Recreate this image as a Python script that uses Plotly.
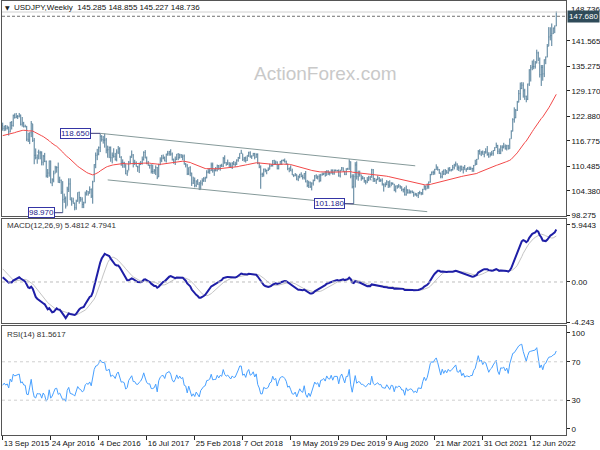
import numpy as np
import plotly.graph_objects as go

# ---------------- data (weekly USDJPY) ----------------
# closes before the visible window (Jan 2014 - 11 Sep 2015), used only to warm up the indicators
warmup_close = [104.8,104.1,104.3,102.3,102.0,102.3,101.8,102.5,101.8,103.3,101.4,102.2,102.8,
                103.3,101.6,102.4,102.2,102.2,101.8,101.5,101.9,101.8,102.5,102.0,102.0,101.4,
                102.1,101.3,101.3,101.8,102.6,102.0,102.4,103.8,103.8,105.1,107.4,109.0,109.3,
                109.7,107.6,106.9,108.1,112.3,114.6,116.3,117.8,118.6,121.4,118.8,119.5,120.4,
                120.5,118.5,117.5,117.7,117.5,119.1,118.8,119.0,119.6,120.8,121.4,120.0,119.1,
                119.0,120.2,118.9,118.9,120.2,119.8,119.3,121.5,124.1,125.6,123.4,122.7,123.9,
                122.8,122.8,124.0,123.8,123.9,124.2,124.3,122.0,121.7,119.0,120.6]

week_high = [
    # 2015
    121.3,120.5,120.7,120.6,120.3,121.5,121.7,123.3,123.6,123.7,123.2,123.7,123.3,122.7,121.5,120.8,
    # 2016
    120.5,118.8,118.9,121.7,121.0,117.5,114.9,113.4,114.6,114.3,114.2,113.3,113.8,111.9,109.8,111.9,111.9,
    107.5,109.4,110.6,110.5,111.4,107.9,107.2,106.8,103.7,103.0,105.4,107.5,107.5,102.8,102.7,101.5,102.2,
    104.0,104.2,102.9,102.8,101.7,104.2,104.6,104.3,105.5,105.0,106.9,111.0,113.9,114.8,115.4,118.65,118.2,118.0,
    # 2017
    118.6,117.5,115.6,115.4,115.4,113.9,114.95,113.8,114.7,115.5,115.2,113.0,112.2,111.6,111.0,109.6,111.8,
    113.1,114.4,113.5,112.1,111.7,110.6,111.4,111.8,112.9,114.2,114.5,112.9,111.8,110.9,111.0,110.9,109.8,
    110.7,110.3,111.1,112.7,113.3,113.4,112.9,113.6,114.3,114.3,114.7,113.9,112.4,112.9,113.5,113.75,113.6,113.5,
    # 2018
    113.4,113.4,111.3,111.0,110.2,110.5,108.9,107.9,107.7,107.0,107.3,106.6,107.0,107.5,107.8,107.9,109.5,
    109.9,110.0,111.4,111.4,109.8,110.3,110.9,110.8,110.9,111.1,112.8,113.2,111.5,112.15,111.5,111.4,111.5,
    111.8,111.6,112.2,112.8,113.7,114.55,113.6,112.8,112.9,113.2,114.1,114.2,113.2,113.8,113.8,113.7,113.7,111.4,
    # 2019
    110.7,108.9,109.9,109.9,109.6,110.2,111.1,111.0,112.0,112.1,111.9,111.7,111.0,111.8,112.1,112.2,112.4,
    111.9,111.1,110.1,110.7,109.9,108.5,108.8,108.5,108.2,108.6,108.99,108.4,108.8,109.3,107.1,106.9,106.7,
    106.5,107.2,108.3,108.5,108.2,108.5,108.6,108.9,108.9,109.3,109.5,109.5,109.1,109.7,109.7,109.7,109.7,109.6,
    # 2020
    109.7,109.6,110.3,110.2,109.3,110.0,110.1,112.2,111.7,108.5,108.5,111.5,111.7,109.4,109.4,108.4,108.1,
    107.8,107.1,107.8,108.1,108.1,109.85,109.8,107.6,107.4,108.2,107.8,107.4,107.5,106.2,106.5,107.05,106.8,
    107.0,106.55,106.5,106.1,105.7,105.8,106.1,105.75,105.5,105.0,105.3,105.7,104.8,104.75,104.5,104.5,104.2,
    103.9,103.8,
    # 2021
    104.1,104.4,104.1,104.9,105.8,105.7,106.2,106.7,108.6,109.2,109.4,109.85,110.97,110.4,109.8,108.9,109.3,
    109.7,109.8,109.5,110.2,110.3,109.8,110.8,111.1,111.65,111.2,110.7,110.6,110.6,110.4,110.8,110.0,110.3,
    110.4,110.4,110.1,110.8,112.1,112.3,114.5,114.7,114.3,114.4,114.2,114.95,115.5,113.95,113.95,114.3,114.5,115.2,
    # 2022
    116.35,115.8,114.9,115.7,115.7,116.3,115.9,115.8,115.8,117.35,119.4,122.4,125.1,124.7,126.7,129.4,131.25,
    131.35,131.3,129.7,128.0,130.98,134.55,135.6,136.7,137.0,136.6,139.4,138.9,137.45,135.6,135.6,137.0,137.7,
    140.8,144.99,144.95,145.9,144.9,145.4,148.855]

week_low = [
    # 2015
    119.3,119.2,119.3,119.6,118.1,118.9,119.6,120.3,122.3,122.4,122.2,122.6,120.6,120.3,120.1,120.2,
    # 2016
    116.7,116.5,115.98,117.7,116.5,110.99,112.2,111.1,112.2,112.2,110.7,110.7,111.5,107.7,107.6,107.9,106.3,
    105.55,106.5,108.7,108.9,106.4,106.3,103.6,98.97,101.4,99.99,100.7,104.1,102.1,100.7,101.2,99.55,99.7,
    101.7,101.2,101.7,100.1,100.1,101.3,103.2,103.2,103.7,102.6,101.2,106.6,110.0,112.0,113.2,114.0,116.6,116.1,
    # 2017
    115.1,113.7,112.6,112.5,111.6,111.2,112.6,111.9,111.7,113.5,112.6,110.6,110.1,110.1,108.5,108.1,109.4,
    111.0,112.6,110.2,110.8,110.4,109.1,108.8,110.8,110.9,111.9,112.5,111.0,110.6,109.9,108.7,108.6,108.6,
    108.3,107.3,107.8,110.8,111.5,112.2,111.7,111.4,113.1,113.1,113.1,111.9,111.1,110.8,112.0,112.0,112.4,112.6,
    # 2018
    112.0,110.9,110.2,108.3,108.3,108.0,105.6,106.1,105.25,105.3,105.9,104.6,104.7,105.7,106.6,106.6,107.5,
    108.7,108.6,109.3,108.9,108.1,109.2,109.2,109.6,109.4,110.3,110.3,111.1,110.6,110.8,110.3,110.1,109.8,
    110.7,110.4,110.8,111.6,112.3,113.6,111.8,111.6,111.4,111.8,112.8,112.6,112.3,113.0,112.2,112.6,111.0,110.0,
    # 2019
    104.9,107.8,107.9,109.0,108.5,109.3,109.7,110.4,110.4,110.8,110.8,109.7,109.7,110.9,110.8,111.7,111.4,
    110.9,109.5,109.0,109.3,108.3,107.8,108.0,107.0,106.8,107.5,107.8,107.2,107.2,106.5,105.3,105.1,105.1,
    104.5,105.7,106.8,107.4,107.2,106.5,106.7,108.2,108.3,107.9,108.2,108.3,108.2,108.7,108.4,108.4,109.2,109.2,
    # 2020
    107.9,107.7,109.4,109.1,108.3,108.3,109.6,109.6,107.5,105.0,101.18,105.2,107.2,106.9,107.9,106.9,107.2,
    106.4,105.99,106.3,106.8,107.1,107.6,106.6,106.6,106.1,107.0,106.6,106.6,105.7,104.2,105.3,105.8,105.1,
    105.2,105.6,105.9,104.3,104.0,104.9,105.2,104.9,104.3,104.0,103.2,103.2,103.7,103.7,103.7,103.8,102.9,
    103.2,102.95,
    # 2021
    102.6,103.5,103.3,103.4,104.7,104.5,104.9,104.9,106.4,108.3,108.3,108.4,109.6,109.4,108.6,107.5,107.5,
    108.3,108.3,108.6,108.6,109.2,109.2,109.4,109.7,110.4,109.5,109.3,109.1,109.4,108.7,109.6,109.1,109.6,
    109.6,109.6,109.1,109.1,110.7,110.8,112.2,113.4,113.0,113.4,112.7,113.6,113.1,112.6,112.9,113.1,113.1,114.3,
    # 2022
    115.0,113.5,113.5,113.5,114.15,114.9,114.6,114.4,114.65,114.8,117.3,119.1,121.3,122.4,124.2,126.3,126.9,
    129.6,127.5,126.95,126.35,126.9,130.4,131.5,134.3,134.55,134.7,136.0,136.55,132.5,130.4,131.7,132.6,135.8,
    137.5,140.25,141.7,140.3,143.3,143.5,145.227]

week_close = [
    # 2015
    119.9,120.5,119.9,120.2,119.0,121.4,120.6,123.1,122.6,122.8,122.8,123.2,120.9,121.2,120.3,120.2,
    # 2016
    117.2,117.0,118.8,121.1,116.9,113.2,112.6,114.0,113.8,113.8,111.5,113.0,111.7,108.1,108.8,111.8,106.3,
    107.1,108.6,110.1,110.2,106.5,107.0,104.1,102.2,102.5,100.6,104.8,106.1,102.1,101.8,101.3,100.2,101.8,
    104.0,102.7,102.3,101.0,101.4,103.6,104.2,103.8,104.7,103.1,106.6,110.9,113.2,113.5,115.1,117.9,117.1,116.9,
    # 2017
    117.0,114.5,114.6,115.1,112.6,113.2,112.9,112.1,114.0,114.8,112.7,111.3,111.4,111.1,108.6,109.1,111.5,
    112.7,113.3,111.3,111.3,110.4,110.3,110.9,111.3,112.2,113.9,112.5,111.1,110.7,110.7,109.2,109.2,109.4,
    110.2,107.8,110.8,112.0,112.5,112.6,111.8,113.5,113.7,114.1,113.5,112.1,111.5,112.2,113.5,112.6,113.3,112.7,
    # 2018
    113.0,111.0,110.8,108.6,110.2,108.8,106.3,106.9,105.7,106.8,106.0,104.7,106.3,106.9,107.4,107.6,109.0,
    109.1,109.4,110.8,109.4,109.5,109.5,110.6,110.0,110.7,110.5,112.4,111.4,111.0,111.3,110.9,110.5,111.2,
    110.9,111.0,112.0,112.6,113.7,113.7,112.2,112.5,111.9,113.2,113.8,112.8,113.0,113.6,112.7,113.4,111.2,110.3,
    # 2019
    108.5,108.5,109.8,109.5,109.5,109.7,110.5,110.7,111.9,111.2,111.5,109.9,110.9,111.7,111.9,111.9,111.6,
    111.1,109.9,110.1,109.3,108.3,108.2,108.5,107.3,107.9,108.5,107.9,107.7,108.7,106.6,105.7,106.4,105.4,
    106.3,106.9,108.1,107.6,107.9,106.9,108.3,108.4,108.7,108.2,109.3,108.8,108.7,109.5,108.6,109.4,109.4,109.4,
    # 2020
    108.1,109.5,110.1,109.3,108.4,109.8,109.8,111.6,108.0,105.4,107.9,110.8,107.9,108.5,108.4,107.5,107.5,
    106.9,106.6,107.1,107.6,107.1,109.6,107.4,106.9,107.2,107.5,106.9,107.0,106.1,105.9,105.9,106.6,105.8,
    105.4,106.2,106.1,104.6,105.6,105.3,105.6,105.4,104.7,104.7,103.4,104.6,103.9,104.1,104.2,104.0,103.4,
    103.6,103.25,
    # 2021
    103.9,103.9,103.8,104.7,105.4,104.9,105.4,106.6,108.35,109.0,108.9,109.7,110.3,109.7,108.8,107.9,109.3,
    108.6,109.35,108.95,109.8,109.5,109.7,110.2,110.8,111.05,110.1,110.05,110.55,109.7,110.2,109.6,109.8,109.8,
    109.7,109.9,109.9,110.7,111.05,112.2,114.2,113.5,113.95,113.4,114.1,114.0,113.4,112.8,113.4,113.7,114.4,115.1,
    # 2022
    115.6,114.2,113.7,115.25,115.2,115.45,114.95,115.55,114.8,117.3,119.2,122.05,122.5,124.35,126.4,128.5,129.8,
    130.6,129.2,127.85,127.1,130.9,134.4,134.9,135.2,135.2,136.1,138.6,136.1,133.2,135.0,133.4,136.9,137.6,
    140.2,142.55,142.9,143.35,144.75,145.285,148.736]

date_tick_index = [0, 32, 64, 96, 128, 160, 192, 224, 256, 288, 320, 352]
date_tick_labels = ["13 Sep 2015", "24 Apr 2016", "4 Dec 2016", "16 Jul 2017", "25 Feb 2018",
                    "7 Oct 2018", "19 May 2019", "29 Dec 2019", "9 Aug 2020", "21 Mar 2021",
                    "31 Oct 2021", "12 Jun 2022"]
price_ticks = [141.565, 135.275, 129.170, 122.880, 116.775, 110.485, 104.380, 98.275]
macd_ticks = [5.9443, 0.0, -4.243]
macd_tick_labels = ["5.9443", "0.00", "-4.243"]
rsi_ticks = [100, 70, 30, 0]

swing_index = [40, 65, 234]
swing_price = [98.970, 118.650, 101.180]
channel_upper_index = [65, 275]
channel_upper_price = [118.65, 110.6]
channel_lower_index = [70, 283]
channel_lower_price = [107.1, 99.22]
bid_price = 147.680
last_close_label = 148.736

title_text = "USDJPY,Weekly  145.285 148.855 145.227 148.736"
macd_text = "MACD(12,26,9) 5.4812 4.7941"
rsi_text = "RSI(14) 81.5617"

# ---------------- indicators ----------------
n_warm = len(warmup_close)
allc = np.array(warmup_close + week_close, dtype=float)


def ema(x, n):
    a = 2.0 / (n + 1)
    out = np.empty_like(x)
    out[0] = x[0]
    for i in range(1, len(x)):
        out[i] = a * x[i] + (1 - a) * out[i - 1]
    return out


def sma(x, n):
    out = np.full_like(x, np.nan)
    for i in range(n - 1, len(x)):
        out[i] = x[i - n + 1:i + 1].mean()
    return out


def rsi(x, n):
    d = np.diff(x)
    g = np.where(d > 0, d, 0.0)
    l = np.where(d < 0, -d, 0.0)
    out = np.full(len(x), np.nan)
    ag = g[:n].mean()
    al = l[:n].mean()
    out[n] = 100 - 100 / (1 + ag / al) if al > 0 else 100
    for i in range(n, len(d)):
        ag = (ag * (n - 1) + g[i]) / n
        al = (al * (n - 1) + l[i]) / n
        out[i + 1] = 100 - 100 / (1 + ag / al) if al > 0 else 100
    return out


ma55 = ema(allc, 55)[n_warm:]
macd_all = ema(allc, 12) - ema(allc, 26)
sig_all = sma(macd_all, 9)
macd = macd_all[n_warm:]
sig = sig_all[n_warm:]
rsi14 = rsi(allc, 14)[n_warm:]

n = len(week_close)
idx = list(range(n))
opens = [warmup_close[-1]] + week_close[:-1]

FONT = "Liberation Sans, Arial, sans-serif"
BAR = "#527d98"
BORDER = "#555555"

fig = go.Figure()
fig.add_trace(go.Ohlc(x=idx, open=opens, high=week_high, low=week_low, close=week_close,
                      increasing=dict(line=dict(color=BAR, width=1)),
                      decreasing=dict(line=dict(color=BAR, width=1)),
                      tickwidth=0.3, hoverinfo="skip", xaxis="x", yaxis="y"))
fig.add_trace(go.Scatter(x=idx, y=ma55, mode="lines", line=dict(color="#f24848", width=1),
                         hoverinfo="skip", xaxis="x", yaxis="y"))
fig.add_trace(go.Scatter(x=channel_upper_index, y=channel_upper_price, mode="lines",
                         line=dict(color="#869a9a", width=1), hoverinfo="skip", xaxis="x", yaxis="y"))
fig.add_trace(go.Scatter(x=channel_lower_index, y=channel_lower_price, mode="lines",
                         line=dict(color="#869a9a", width=1), hoverinfo="skip", xaxis="x", yaxis="y"))
fig.add_trace(go.Scatter(x=idx, y=sig, mode="lines", line=dict(color="#c4c4c4", width=1),
                         hoverinfo="skip", xaxis="x2", yaxis="y2"))
fig.add_trace(go.Scatter(x=idx, y=macd, mode="lines", line=dict(color="#1e1ea6", width=2),
                         hoverinfo="skip", xaxis="x2", yaxis="y2"))
fig.add_trace(go.Scatter(x=idx, y=rsi14, mode="lines", line=dict(color="#47a0ff", width=1),
                         hoverinfo="skip", xaxis="x3", yaxis="y3"))

xr = [-0.47, 375.5]
common_x = dict(range=xr, showline=True, mirror=True, linecolor=BORDER, linewidth=1,
                showgrid=False, zeroline=False, fixedrange=True, automargin=False)
common_y = dict(side="right", showline=True, mirror=True, linecolor=BORDER, linewidth=1,
                showgrid=False, zeroline=False, ticks="outside", ticklen=3, tickcolor="#222",
                fixedrange=True, automargin=False, tickfont=dict(family=FONT, size=8, color="#111"))

fig.update_layout(
    width=600, height=450, margin=dict(l=2, r=34, t=1, b=15, autoexpand=False),
    paper_bgcolor="white", plot_bgcolor="white", showlegend=False, hovermode=False,
    xaxis=dict(common_x, domain=[0, 1], anchor="y", showticklabels=False, ticks="",
               rangeslider=dict(visible=False)),
    xaxis2=dict(common_x, domain=[0, 1], anchor="y2", showticklabels=False, ticks=""),
    xaxis3=dict(common_x, domain=[0, 1], anchor="y3", tickmode="array",
                tickvals=date_tick_index, ticktext=date_tick_labels, ticks="outside",
                ticklen=4, tickcolor="#222", ticklabelposition="outside right", tickangle=0,
                tickfont=dict(family=FONT, size=8, color="#111")),
    yaxis=dict(common_y, domain=[0.5035, 1], anchor="x", range=[98.03, 151.47],
               tickmode="array", tickvals=price_ticks, ticktext=["%.3f" % v for v in price_ticks]),
    yaxis2=dict(common_y, domain=[0.2581, 0.4977], anchor="x2", range=[-4.275, 6.57],
                tickmode="array", tickvals=macd_ticks, ticktext=macd_tick_labels),
    yaxis3=dict(common_y, domain=[0, 0.2512], anchor="x3", range=[-6.25, 107.3],
                tickmode="array", tickvals=rsi_ticks, ticktext=[str(v) for v in rsi_ticks]),
)

# level lines
shapes = [
    dict(type="line", xref="x", yref="y", x0=xr[0], x1=xr[1], y0=last_close_label, y1=last_close_label,
         line=dict(color="#d0d0d0", width=1)),
    dict(type="line", xref="x", yref="y", x0=xr[0], x1=xr[1], y0=bid_price, y1=bid_price,
         line=dict(color="#707070", width=1, dash="3px,2px")),
    dict(type="line", xref="x2", yref="y2", x0=xr[0], x1=xr[1], y0=0, y1=0,
         line=dict(color="#bdbdbd", width=1, dash="3px,3px")),
    dict(type="line", xref="x3", yref="y3", x0=xr[0], x1=xr[1], y0=70, y1=70,
         line=dict(color="#cfcfcf", width=1, dash="3px,3px")),
    dict(type="line", xref="x3", yref="y3", x0=xr[0], x1=xr[1], y0=30, y1=30,
         line=dict(color="#cfcfcf", width=1, dash="3px,3px")),
]
fig.update_layout(shapes=shapes)

ann = []
# watermark
ann.append(dict(text="ActionForex.com", xref="paper", yref="paper", x=0.5727, y=0.832,
                xanchor="center", yanchor="middle",
                showarrow=False, font=dict(family=FONT, size=19, color="#c9c9c9")))
# panel titles
ann.append(dict(text="▼", xref="paper", yref="paper", x=0.002, y=0.985, xanchor="left",
                yanchor="middle", showarrow=False, font=dict(family="DejaVu Sans", size=6, color="#222")))
ann.append(dict(text=title_text, xref="paper", yref="paper", x=0.0177, y=0.985, xanchor="left",
                yanchor="middle", showarrow=False, font=dict(family=FONT, size=8, color="#111")))
ann.append(dict(text=macd_text, xref="paper", yref="paper", x=0.005, y=0.4816, xanchor="left",
                yanchor="middle", showarrow=False, font=dict(family=FONT, size=8, color="#333")))
ann.append(dict(text=rsi_text, xref="paper", yref="paper", x=0.005, y=0.2327, xanchor="left",
                yanchor="middle", showarrow=False, font=dict(family=FONT, size=8, color="#333")))
# swing labels
offsets = [-21, -25, -24]
for i, p, ax in zip(swing_index, swing_price, offsets):
    ann.append(dict(x=i, y=p, xref="x", yref="y", text="%.3f" % p, showarrow=True, arrowhead=0,
                    arrowwidth=1, arrowcolor="#3a3a7a", ax=ax, ay=0, bgcolor="white",
                    bordercolor="#3535a5", borderwidth=1, borderpad=0,
                    font=dict(family=FONT, size=8, color="#24248a")))
# price scale labels at top
ann.append(dict(text="%.3f" % last_close_label, xref="paper", yref="y", x=1, y=149.4, xanchor="left",
                yanchor="middle", xshift=3, showarrow=False, font=dict(family=FONT, size=8, color="#111")))
ann.append(dict(text="%.3f" % bid_price, xref="paper", yref="y", x=1, y=bid_price, xanchor="left",
                yanchor="middle", xshift=1, showarrow=False, bgcolor="#2f4b59", borderpad=1,
                font=dict(family=FONT, size=8, color="white")))
fig.update_layout(annotations=ann)

fig.write_html("out.html", config={"displayModeBar": False, "staticPlot": True},
               post_script="document.body.style.margin='0px';document.body.style.padding='0px';")
